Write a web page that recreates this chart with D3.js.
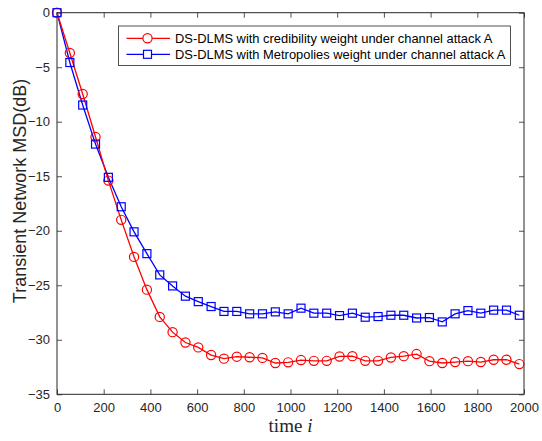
<!DOCTYPE html>
<html>
<head>
<meta charset="utf-8">
<script src="https://cdn.jsdelivr.net/npm/d3@7"></script>
<style>
  body { margin: 0; background: #fff; }
  text { font-family: "Liberation Sans", Arial, sans-serif; }
</style>
</head>
<body>
<svg width="542" height="441"></svg>
<script>
var width = 542;
var height = 441;

// time index of each marker
var timeSteps = [0, 55, 110, 165, 220, 275, 330, 385, 440, 495, 550, 605, 660, 715, 770, 825, 880, 935, 990,
    1045, 1100, 1155, 1210, 1265, 1320, 1375, 1430, 1485, 1540, 1595, 1650, 1705, 1760, 1815, 1870, 1925, 1980];

var credibilityMsd = [0, -3.7, -7.46, -11.4, -15.4, -19.0, -22.4, -25.4, -27.9, -29.3, -30.25, -30.7, -31.4, -31.73,
    -31.55, -31.6, -31.66, -32.13, -32.07, -31.86, -31.93, -31.93, -31.53, -31.5, -31.93, -31.93, -31.62, -31.5,
    -31.31, -31.96, -32.13, -32.04, -31.96, -32.04, -31.83, -31.83, -32.23];

var metropolisMsd = [0, -4.57, -8.47, -12.05, -15.1, -17.8, -20.1, -22.1, -24.05, -25.06, -26.0, -26.5, -26.95, -27.4,
    -27.4, -27.62, -27.62, -27.44, -27.62, -27.1, -27.56, -27.56, -27.78, -27.56, -27.93, -27.87, -27.75, -27.75,
    -28.0, -27.96, -28.36, -27.62, -27.32, -27.56, -27.28, -27.28, -27.75];

var seriesNames = [
    "DS-DLMS with credibility weight under channel attack A",
    "DS-DLMS with Metropolies weight under channel attack A"
];

var xTicks = [0, 200, 400, 600, 800, 1000, 1200, 1400, 1600, 1800, 2000];
var yTicks = [0, -5, -10, -15, -20, -25, -30, -35];

var margin = { left: 57, right: 18, top: 12.7, bottom: 46.7 };
var axisColor = "#262626";

var svg = d3.select("svg");

var x = d3.scaleLinear().domain([0, 2000]).range([margin.left, width - margin.right]);
var y = d3.scaleLinear().domain([-35, 0]).range([height - margin.bottom, margin.top]);

var plotW = x.range()[1] - x.range()[0];
var plotH = y.range()[0] - y.range()[1];

svg.append("rect")
    .attr("x", margin.left).attr("y", margin.top)
    .attr("width", plotW).attr("height", plotH)
    .attr("fill", "#fff");

function styleAxis(g) {
    g.select(".domain").remove();
    g.selectAll(".tick line").attr("stroke", axisColor).attr("stroke-width", 0.8);
    g.selectAll(".tick text")
        .attr("fill", axisColor)
        .style("font-size", "13px");
}

// bottom & left axes, ticks point inward like MATLAB
svg.append("g")
    .attr("transform", "translate(0," + y(-35) + ")")
    .call(d3.axisBottom(x).tickValues(xTicks).tickFormat(d3.format("d"))
        .tickSizeInner(-5).tickSizeOuter(0).tickPadding(8))
    .call(styleAxis);

svg.append("g")
    .attr("transform", "translate(" + x(0) + ",0)")
    .call(d3.axisLeft(y).tickValues(yTicks).tickSizeInner(-5).tickSizeOuter(0).tickPadding(7))
    .call(styleAxis);

// mirrored ticks on top & right
svg.append("g")
    .attr("transform", "translate(0," + y(0) + ")")
    .call(d3.axisTop(x).tickValues(xTicks).tickSizeInner(-5).tickSizeOuter(0).tickFormat(""))
    .call(styleAxis);

svg.append("g")
    .attr("transform", "translate(" + x(2000) + ",0)")
    .call(d3.axisRight(y).tickValues(yTicks).tickSizeInner(-5).tickSizeOuter(0).tickFormat(""))
    .call(styleAxis);

svg.append("rect")
    .attr("x", margin.left).attr("y", margin.top)
    .attr("width", plotW).attr("height", plotH)
    .attr("fill", "none")
    .attr("stroke", axisColor)
    .attr("stroke-width", 1);

var credData = timeSteps.map(function (t, i) { return { t: t, v: credibilityMsd[i] }; });
var metroData = timeSteps.map(function (t, i) { return { t: t, v: metropolisMsd[i] }; });

var line = d3.line()
    .x(function (d) { return x(d.t); })
    .y(function (d) { return y(d.v); });

var plot = svg.append("g");

plot.append("path")
    .datum(metroData)
    .attr("d", line)
    .attr("fill", "none")
    .attr("stroke", "#0000ff")
    .attr("stroke-width", 1.3);

plot.append("path")
    .datum(credData)
    .attr("d", line)
    .attr("fill", "none")
    .attr("stroke", "#ff0000")
    .attr("stroke-width", 1.3);

plot.selectAll("circle.cred")
    .data(credData).enter().append("circle")
    .attr("class", "cred")
    .attr("cx", function (d) { return x(d.t); })
    .attr("cy", function (d) { return y(d.v); })
    .attr("r", 4.6)
    .attr("fill", "none")
    .attr("stroke", "#ff0000")
    .attr("stroke-width", 1.2);

plot.selectAll("rect.metro")
    .data(metroData).enter().append("rect")
    .attr("class", "metro")
    .attr("x", function (d) { return x(d.t) - 4; })
    .attr("y", function (d) { return y(d.v) - 4; })
    .attr("width", 8).attr("height", 8)
    .attr("fill", "none")
    .attr("stroke", "#0000ff")
    .attr("stroke-width", 1.2);

// legend
var legend = svg.append("g").attr("transform", "translate(118.5,26)");
legend.append("rect")
    .attr("width", 392).attr("height", 39.5)
    .attr("fill", "#fff")
    .attr("stroke", axisColor)
    .attr("stroke-width", 0.8);

var legendColors = ["#ff0000", "#0000ff"];
seriesNames.forEach(function (name, i) {
    var row = legend.append("g").attr("transform", "translate(0," + (12.3 + i * 16) + ")");
    row.append("line")
        .attr("x1", 8).attr("x2", 51.5)
        .attr("stroke", legendColors[i]).attr("stroke-width", 1.3);
    if (i === 0) {
        row.append("circle").attr("cx", 29).attr("r", 4.6)
            .attr("fill", "#fff").attr("stroke", legendColors[i]).attr("stroke-width", 1.2);
    } else {
        row.append("rect").attr("x", 25).attr("y", -4).attr("width", 8).attr("height", 8)
            .attr("fill", "#fff").attr("stroke", legendColors[i]).attr("stroke-width", 1.2);
    }
    row.append("text")
        .attr("x", 56.5).attr("dy", "0.35em")
        .attr("fill", "#000")
        .style("font-size", "12.9px")
        .text(name);
});

// axis titles
svg.append("text")
    .attr("transform", "translate(26,191) rotate(-90)")
    .attr("text-anchor", "middle")
    .attr("fill", axisColor)
    .style("font-size", "18px")
    .text("Transient Network MSD(dB)");

var xlabel = svg.append("text")
    .attr("x", x(1000)).attr("y", 432)
    .attr("text-anchor", "middle")
    .attr("fill", axisColor)
    .style("font-family", "'Liberation Serif', 'DejaVu Serif', serif")
    .style("font-size", "19px");
xlabel.append("tspan").text("time ");
xlabel.append("tspan").style("font-style", "italic").text("i");
</script>
</body>
</html>
